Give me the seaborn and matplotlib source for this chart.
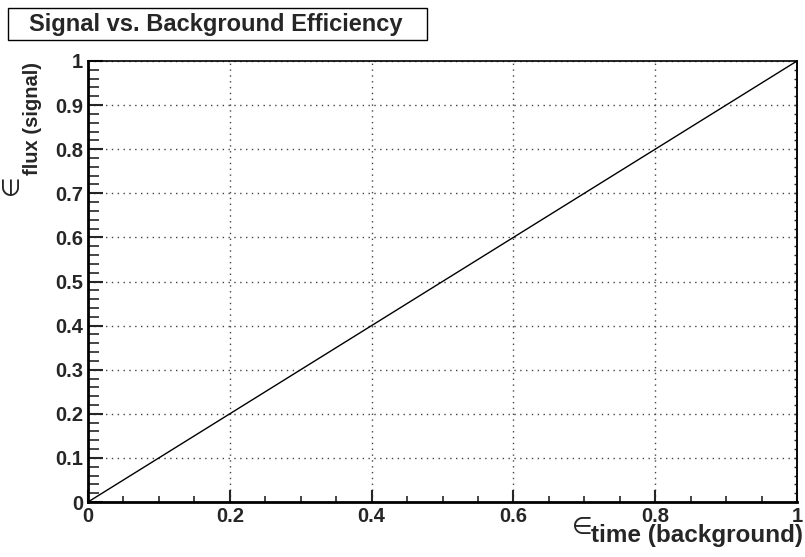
import matplotlib
matplotlib.use("Agg")
import matplotlib.pyplot as plt
from matplotlib.patches import Rectangle
from matplotlib.ticker import MultipleLocator, FuncFormatter
import seaborn as sns
import pandas as pd

# data: background efficiency (x) vs signal efficiency (y)
eff_background = [0.0, 0.1, 0.2, 0.3, 0.4, 0.5, 0.6, 0.7, 0.8, 0.9, 1.0]
eff_signal = [0.0, 0.1, 0.2, 0.3, 0.4, 0.5, 0.6, 0.7, 0.8, 0.9, 1.0]
x_ticks = [0.0, 0.2, 0.4, 0.6, 0.8, 1.0]
y_ticks = [0.0, 0.1, 0.2, 0.3, 0.4, 0.5, 0.6, 0.7, 0.8, 0.9, 1.0]
title = "Signal vs. Background Efficiency"
xlabel_sub = "time (background)"
ylabel_sub = "flux (signal)"

sns.set_style("ticks")
plt.rcParams["font.family"] = ["Liberation Sans", "DejaVu Sans"]

W, H = 805, 557
fig = plt.figure(figsize=(W / 100, H / 100), dpi=100)
fig.patch.set_facecolor("white")
ax = fig.add_axes([88 / W, 1 - 502 / H, (797 - 88) / W, (502 - 61) / H])

df = pd.DataFrame({"bkg": eff_background, "sig": eff_signal})
sns.lineplot(data=df, x="bkg", y="sig", ax=ax, color="black", linewidth=1.0)

ax.set_xlim(0, 1)
ax.set_ylim(0, 1)
ax.set_xticks(x_ticks)
ax.set_yticks(y_ticks)
fmt = FuncFormatter(lambda v, p: ("%g" % round(v, 2)))
ax.xaxis.set_major_formatter(fmt)
ax.yaxis.set_major_formatter(fmt)
ax.xaxis.set_minor_locator(MultipleLocator(0.05))
ax.yaxis.set_minor_locator(MultipleLocator(0.02))
ax.set_xlabel("")
ax.set_ylabel("")

ax.grid(True, which="major", color="#444444", linestyle=(0, (1, 3.2)), linewidth=1.0)
ax.set_axisbelow(True)

ax.tick_params(axis="x", which="major", direction="in", length=8.6, width=1.5,
               labelsize=14.5, pad=3.5, top=False)
ax.tick_params(axis="x", which="minor", direction="in", length=4.3, width=1.2, top=False)
ax.tick_params(axis="y", which="major", direction="in", length=11, width=1.5,
               labelsize=14.5, pad=3.5, right=False)
ax.tick_params(axis="y", which="minor", direction="in", length=8, width=1.2, right=False)
for lab in ax.get_xticklabels() + ax.get_yticklabels():
    lab.set_fontweight("bold")

sec = ax.secondary_yaxis("right")
sec.set_yticks(y_ticks)
sec.yaxis.set_minor_locator(MultipleLocator(0.02))
sec.tick_params(which="both", direction="in", length=2.5, width=1.0, labelright=False)
sec.spines["right"].set_linewidth(1.2)

ax.spines["left"].set_linewidth(2.0)
ax.spines["bottom"].set_linewidth(2.0)
ax.spines["top"].set_linewidth(1.2)
ax.spines["right"].set_linewidth(1.2)
for s in ax.spines.values():
    s.set_color("black")

# title box
fig.patches.append(Rectangle((8 / W, 1 - 40 / H), 419 / W, 32 / H, transform=fig.transFigure,
                             facecolor="white", edgecolor="black", linewidth=1.0))
fig.text(216 / W, 1 - 24 / H, title, ha="center", va="center", fontsize=17,
         fontweight="bold")

# x label
fig.text(582 / W, 1 - 527 / H, "\u2208", ha="center", va="center", fontsize=17,
         family=["DejaVu Sans"])
fig.text(803 / W, 1 - 542 / H, xlabel_sub, ha="right", va="baseline", fontsize=17.5,
         fontweight="bold")

# y label
fig.text(11 / W, 1 - 185 / H, "\u2208", ha="center", va="center", fontsize=17,
         rotation=90, family=["DejaVu Sans"])
fig.text(33 / W, 1 - 62 / H, ylabel_sub, ha="center", va="top", fontsize=14.5,
         fontweight="bold", rotation=90)

fig.savefig("out.png", dpi=100)
